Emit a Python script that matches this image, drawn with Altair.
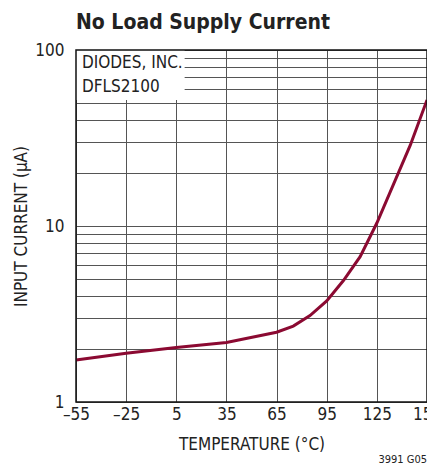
import altair as alt
import pandas as pd

temps = [-55, -25, 5, 35, 65, 75, 85, 95, 105, 115, 125, 135, 145, 155]
currents = [1.73, 1.89, 2.04, 2.18, 2.49, 2.7, 3.1, 3.75, 4.9, 6.7, 10.4, 17.3, 28.8, 52]

x_ticks = [-55, -25, 5, 35, 65, 95, 125, 155]
y_grid = [1, 2, 3, 4, 5, 6, 7, 8, 9, 10, 20, 30, 40, 50, 60, 70, 80, 90, 100]
note_lines = ["DIODES, INC.", "DFLS2100"]
note_y = [84, 61.5]

FONT = "DejaVu Sans Condensed, sans-serif"

df = pd.DataFrame({"t": temps, "i": currents})

xs = alt.Scale(domain=[x_ticks[0], x_ticks[-1]], nice=False, zero=False)
ys = alt.Scale(type="log", domain=[y_grid[0], y_grid[-1]], nice=False)

line = alt.Chart(df).mark_line(color="#8B0A32", strokeWidth=3).encode(
    x=alt.X("t:Q", scale=xs, title="TEMPERATURE (°C)",
            axis=alt.Axis(values=x_ticks, grid=True, ticks=False, domain=False,
                          labelExpr="replace(datum.label, '−', '–')",
                          labelFontSize=17, titleFontSize=17, labelPadding=4,
                          titlePadding=14, labelFlush=False)),
    y=alt.Y("i:Q", scale=ys, title="INPUT CURRENT (µA)",
            axis=alt.Axis(values=y_grid, grid=True, ticks=False, domain=False,
                          labelExpr="indexof([1,10,100], datum.value) >= 0 ? format(datum.value, 'd') : ''",
                          labelFontSize=17, titleFontSize=17, labelPadding=12,
                          titlePadding=4)),
)

box_df = pd.DataFrame({"x0": [x_ticks[0]], "x1": [10], "y0": [52], "y1": [y_grid[-1]]})
box = alt.Chart(box_df).mark_rect(fill="white", stroke=None).encode(
    x=alt.X("x0:Q", scale=xs), x2="x1:Q",
    y=alt.Y("y0:Q", scale=ys), y2="y1:Q",
)

note_df = pd.DataFrame({"label": note_lines, "y": note_y, "x": [x_ticks[0]] * 2})
notes = alt.Chart(note_df).mark_text(
    align="left", baseline="middle", dx=6, fontSize=17, font=FONT, color="#222"
).encode(
    x=alt.X("x:Q", scale=xs), y=alt.Y("y:Q", scale=ys), text="label:N"
)

frame_df = pd.DataFrame({"x0": [x_ticks[0]], "x1": [x_ticks[-1]], "y0": [y_grid[0]], "y1": [y_grid[-1]]})
frame = alt.Chart(frame_df).mark_rect(fill=None, stroke="#111", strokeWidth=1.5).encode(
    x=alt.X("x0:Q", scale=xs), x2="x1:Q",
    y=alt.Y("y0:Q", scale=ys), y2="y1:Q",
)

code_df = pd.DataFrame({"label": ["3991 G05"]})
code = alt.Chart(code_df).mark_text(
    align="right", baseline="bottom", fontSize=11, font=FONT, color="#222"
).encode(
    x=alt.value(351), y=alt.value(415), text="label:N"
)

chart = alt.layer(box, line, notes, frame, code).properties(
    width=351, height=352,
    padding={"left": 68, "top": 42, "right": 0, "bottom": 63},
    autosize=alt.AutoSizeParams(type="none"),
    title=alt.TitleParams("No Load Supply Current", anchor="start", frame="group",
                          fontSize=21, fontWeight="bold", font=FONT, color="#222",
                          offset=8),
).configure_axis(
    labelFont=FONT, titleFont=FONT, labelColor="#222", titleColor="#222",
    titleFontWeight="normal", gridColor="#555", gridWidth=1, gridOpacity=1,
).configure_view(stroke=None)

chart.save("out.html", embed_options={"renderer": "svg", "actions": False})
